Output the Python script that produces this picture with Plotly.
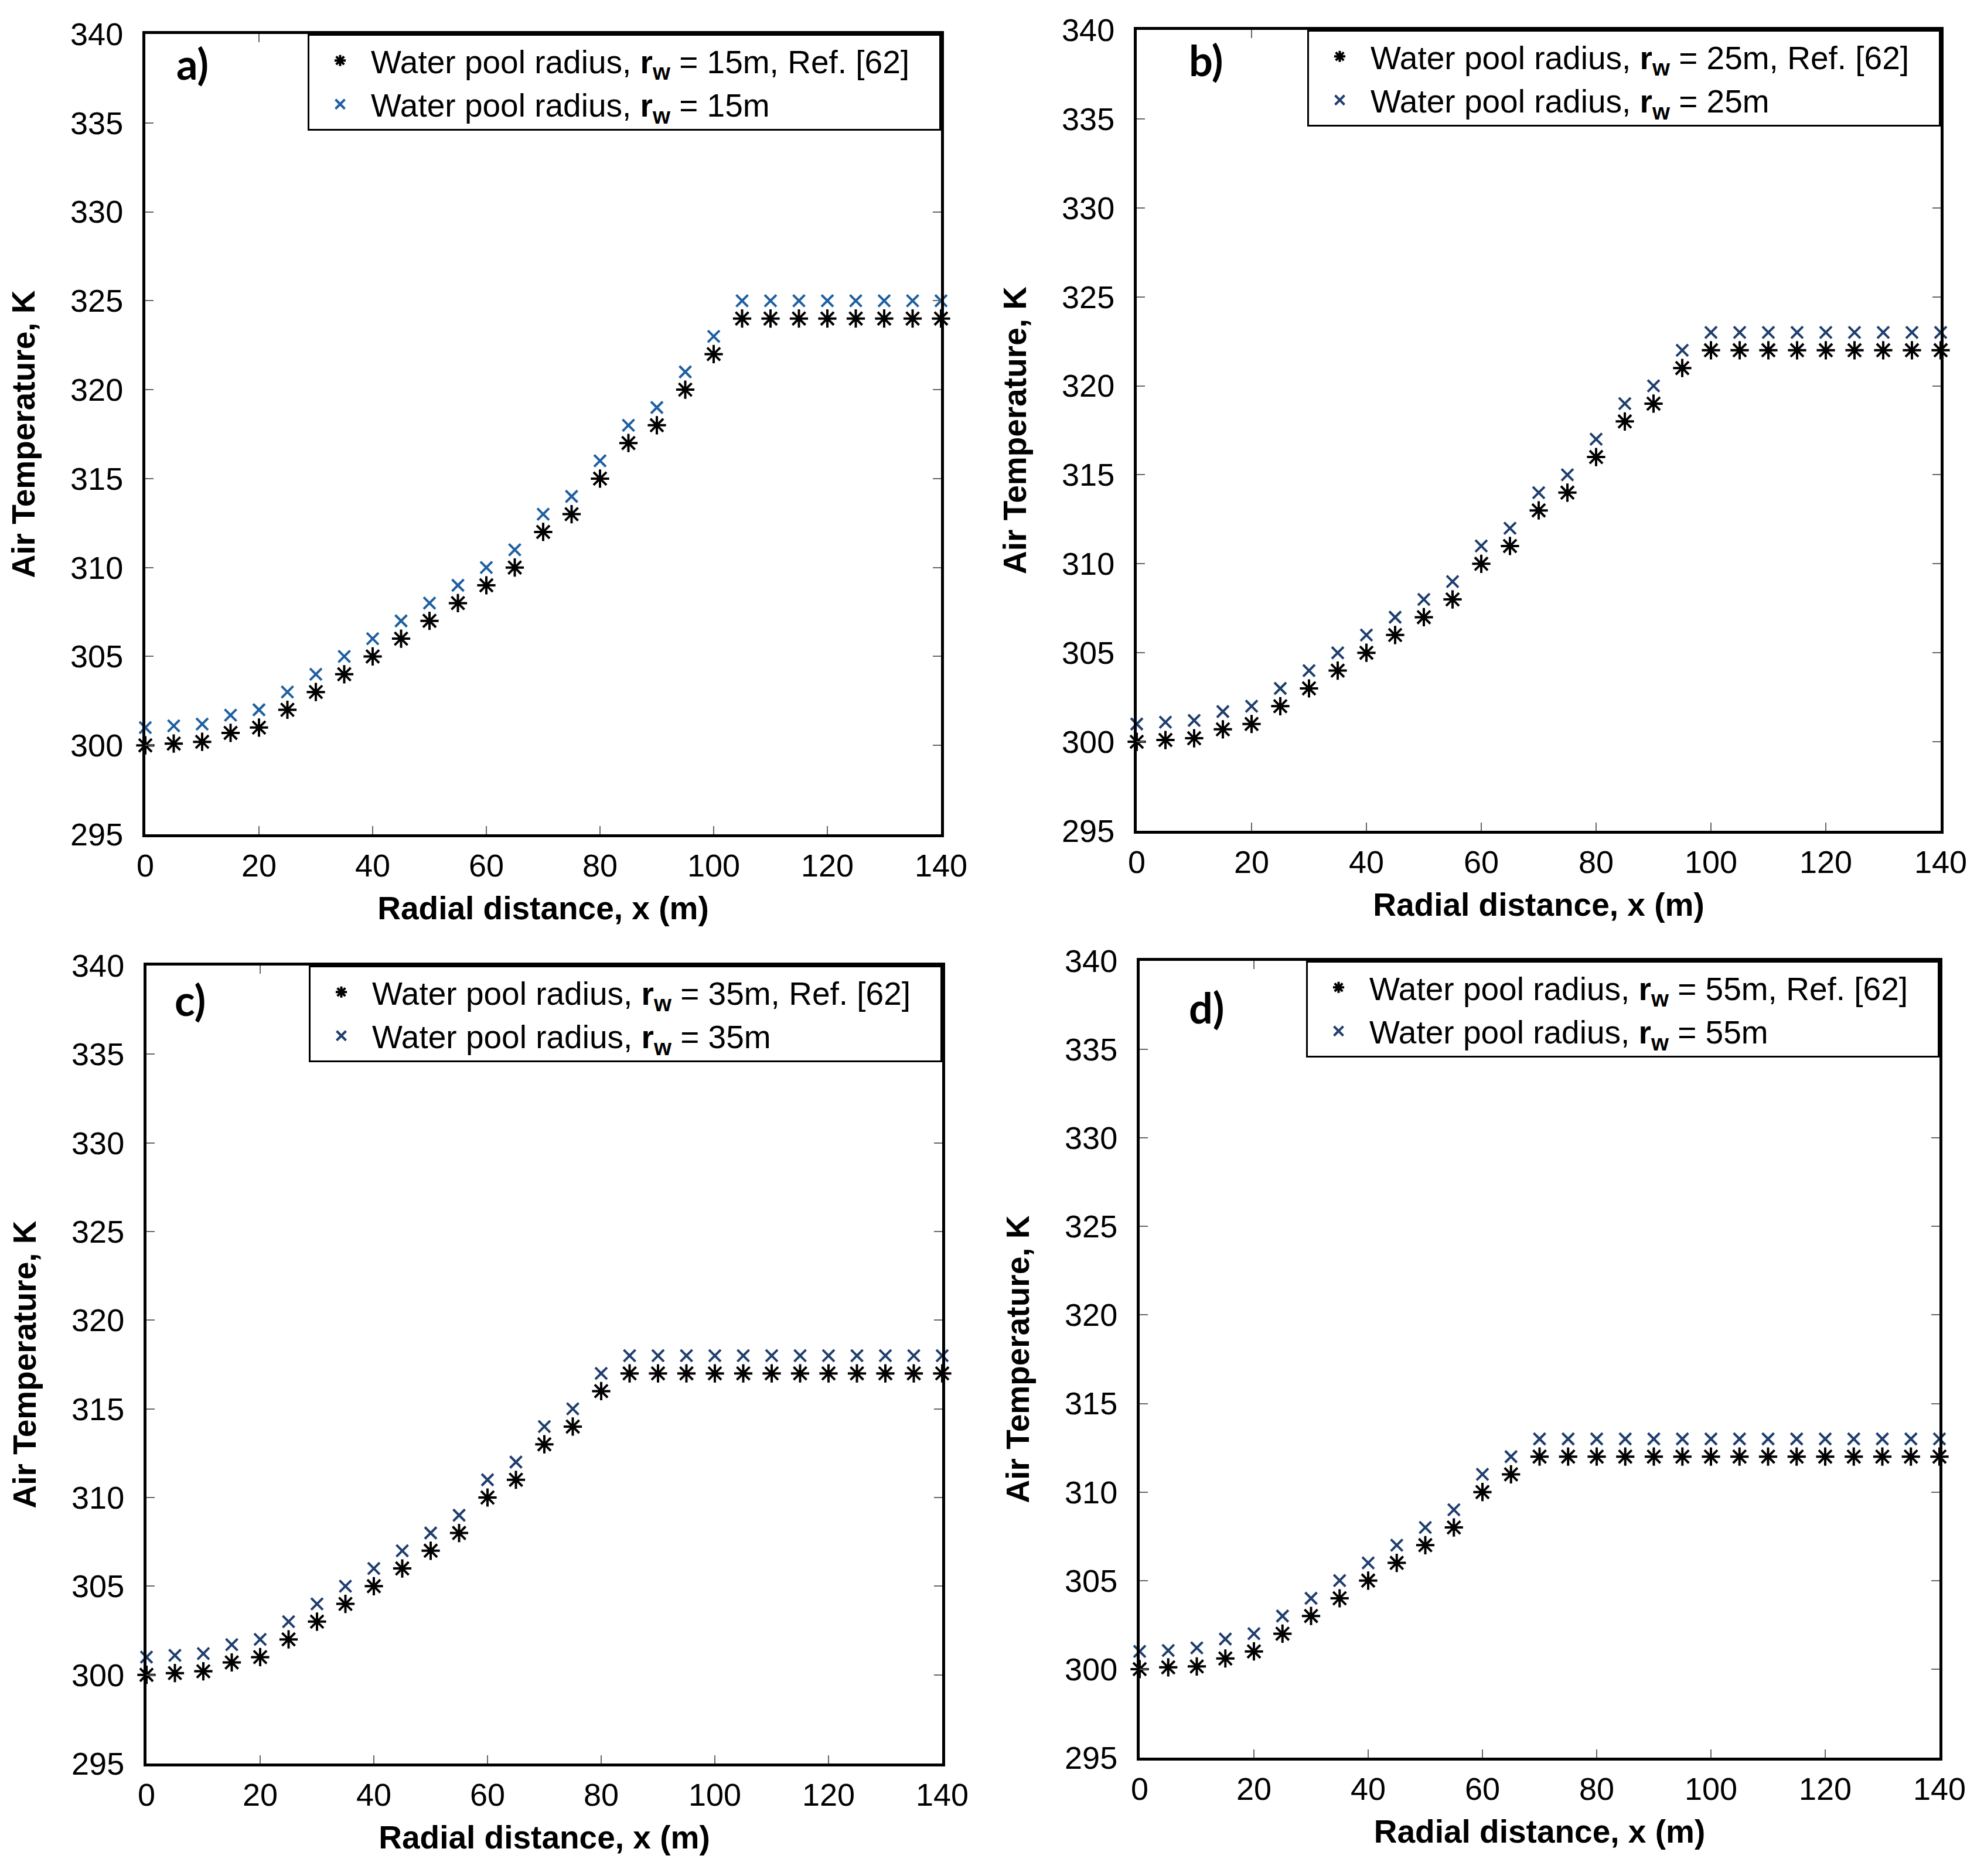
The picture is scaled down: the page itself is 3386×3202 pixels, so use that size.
import plotly.graph_objects as go

W, H = 3386, 3202

x_pos = [0, 5, 10, 15, 20, 25, 30, 35, 40, 45, 50, 55, 60, 65, 70, 75, 80, 85, 90, 95,
         100, 105, 110, 115, 120, 125, 130, 135, 140]

ref_a = [300, 300.1, 300.2, 300.7, 301, 302, 303, 304, 305, 306, 307, 308, 309, 310, 312,
         313, 315, 317, 318, 320, 322, 324, 324, 324, 324, 324, 324, 324, 324]
mod_a = [301, 301.1, 301.2, 301.7, 302, 303, 304, 305, 306, 307, 308, 309, 310, 311, 313,
         314, 316, 318, 319, 321, 323, 325, 325, 325, 325, 325, 325, 325, 325]

ref_b = [300, 300.1, 300.2, 300.7, 301, 302, 303, 304, 305, 306, 307, 308, 310, 311, 313,
         314, 316, 318, 319, 321, 322, 322, 322, 322, 322, 322, 322, 322, 322]
mod_b = [301, 301.1, 301.2, 301.7, 302, 303, 304, 305, 306, 307, 308, 309, 311, 312, 314,
         315, 317, 319, 320, 322, 323, 323, 323, 323, 323, 323, 323, 323, 323]

ref_c = [300, 300.1, 300.2, 300.7, 301, 302, 303, 304, 305, 306, 307, 308, 310, 311, 313,
         314, 316, 317, 317, 317, 317, 317, 317, 317, 317, 317, 317, 317, 317]
mod_c = [301, 301.1, 301.2, 301.7, 302, 303, 304, 305, 306, 307, 308, 309, 311, 312, 314,
         315, 317, 318, 318, 318, 318, 318, 318, 318, 318, 318, 318, 318, 318]

ref_d = [300, 300.1, 300.15, 300.6, 301, 302, 303, 304, 305, 306, 307, 308, 310, 311, 312,
         312, 312, 312, 312, 312, 312, 312, 312, 312, 312, 312, 312, 312, 312]
mod_d = [301, 301.05, 301.2, 301.7, 302, 303, 304, 305, 306, 307, 308, 309, 311, 312, 313,
         313, 313, 313, 313, 313, 313, 313, 313, 313, 313, 313, 313, 313, 313]

radii = ["15", "25", "35", "55"]
panel_labels = ["a)", "b)", "c)", "d)"]
x_ticks = [0, 20, 40, 60, 80, 100, 120, 140]
y_ticks = [295, 300, 305, 310, 315, 320, 325, 330, 335, 340]

x_title = "Radial distance, x (m)"
y_title = "Air Temperature, K"

refs = [ref_a, ref_b, ref_c, ref_d]
mods = [mod_a, mod_b, mod_c, mod_d]
cross_colors = ["#1f5fa0", "#1f3e6e", "#1f3e6e", "#1f3e6e"]

# pixel layout: (left, right, top, bottom)
boxes = [(240, 1598, 50, 1416), (1932, 3304, 43, 1410),
         (242, 1600, 1640, 3002), (1937, 3302, 1632, 2992)]
label_pos = [(320, 100), (2050, 94), (316, 1698), (2051, 1711)]

FONT = "Liberation Sans, Arial, sans-serif"
PAD = "&#160;&#160;&#160;"

fig = go.Figure()
layout = dict(width=W, height=H, autosize=False,
              margin=dict(l=0, r=0, t=0, b=0, pad=0, autoexpand=False),
              paper_bgcolor="white", plot_bgcolor="white", showlegend=True,
              font=dict(family=FONT, size=54, color="black"))
annotations = []

for i in range(4):
    n = "" if i == 0 else str(i + 1)
    xa, ya = "x" + n, "y" + n
    lg = "legend" + n
    l, r, t, b = boxes[i]
    fig.add_trace(go.Scatter(
        x=x_pos, y=refs[i], mode="markers", xaxis=xa, yaxis=ya, legend=lg,
        name="Water pool radius, <b>r<sub>w</sub></b> = " + radii[i] + "m, Ref. [62]" + PAD,
        marker=dict(symbol="asterisk-open", size=26, color="black",
                    line=dict(color="black", width=4)),
        cliponaxis=False))
    fig.add_trace(go.Scatter(
        x=x_pos, y=mods[i], mode="markers", xaxis=xa, yaxis=ya, legend=lg,
        name="Water pool radius, <b>r<sub>w</sub></b> = " + radii[i] + "m",
        marker=dict(symbol="x-thin-open", size=20, color=cross_colors[i],
                    line=dict(color=cross_colors[i], width=4)),
        cliponaxis=False))
    axcommon = dict(showgrid=False, zeroline=False, showline=True, linecolor="black",
                    linewidth=5, mirror="ticks", ticks="inside", ticklen=14,
                    tickwidth=2, tickcolor="#666666",
                    tickfont=dict(family=FONT, size=54, color="black"))
    layout["xaxis" + n] = dict(
        axcommon, domain=[l / W, r / W], anchor=ya, range=[0, 140],
        tickvals=x_ticks, ticklabelstandoff=2,
        title=dict(text="<b>" + x_title + "</b>", standoff=26,
                   font=dict(family=FONT, size=55, color="black")))
    layout["yaxis" + n] = dict(
        axcommon, domain=[1 - b / H, 1 - t / H], anchor=xa, range=[295, 340],
        tickvals=y_ticks, ticklabelstandoff=22,
        title=dict(text="<b>" + y_title + "</b>", standoff=44,
                   font=dict(family=FONT, size=55, color="black")))
    layout[lg] = dict(x=r / W, y=1 - t / H, xanchor="right", yanchor="top",
                      xref="paper", yref="paper",
                      bgcolor="white", bordercolor="black", borderwidth=3,
                      font=dict(family=FONT, size=55, color="black"),
                      itemwidth=95, tracegroupgap=0)
    lx, ly = label_pos[i]
    annotations.append(dict(text="<b>" + panel_labels[i] + "</b>", x=lx / W, y=1 - ly / H,
                            xref="paper", yref="paper", showarrow=False,
                            xanchor="center", yanchor="middle",
                            font=dict(family="Lato, sans-serif", size=72, color="black")))

layout["annotations"] = annotations
fig.update_layout(**layout)
fig.write_html("out.html")
